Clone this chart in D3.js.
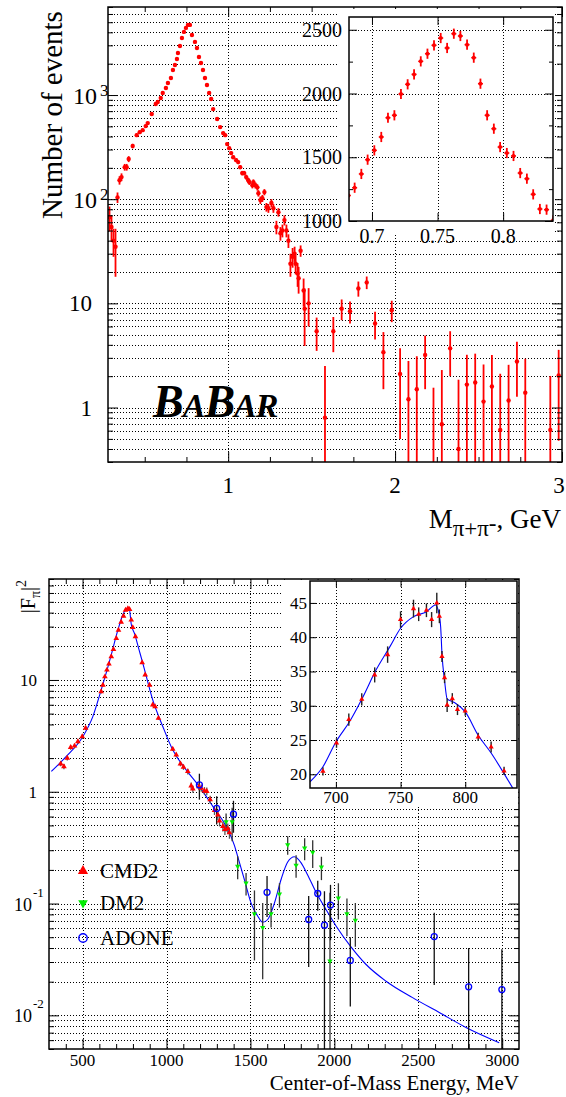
<!DOCTYPE html>
<html>
<head>
<meta charset="utf-8">
<script src="https://cdn.jsdelivr.net/npm/d3@7"></script>
<style>
    body { margin: 0; background: #fff; }
    text { font-family: "Liberation Serif", "Times New Roman", serif; fill: #000; }
</style>
</head>
<body>
<div id="chart"></div>
<script>
/* * * * * * * * * * * * * *
*   data  *
* * * * * * * * * * * * * */

// top panel: BaBar pi+pi- mass spectrum (GeV, events, error)
const topMass = [0.289,0.301,0.313,0.325,0.337,0.349,0.361,0.380,0.392,0.404,0.428,0.452,0.470,0.488,0.506,0.518,0.542,0.566,0.578,0.596,0.608,0.627,0.639,0.657,0.669,0.681,0.693,0.699,0.711,0.723,0.735,0.747,0.759,0.771,
    0.783,0.801,0.813,0.825,0.837,0.849,0.861,0.873,0.886,0.898,0.910,0.934,0.952,0.970,0.982,0.994,1.006,1.018,1.030,1.048,1.060,1.072,1.084,1.096,1.108,1.120,1.127,1.145,1.151,1.163,1.175,1.181,1.193,1.205,1.217,1.229,1.241,1.259,1.271,1.289,1.301,1.313,1.325,1.337,1.349,1.361,1.373,1.386,1.398,1.404,1.416,1.422,1.434,1.452,1.458,1.482,
    1.53,1.58,1.63,1.68,1.73,1.78,1.83,1.88,1.93,1.98,2.03,2.08,2.13,2.18,2.23,2.28,2.33,2.38,2.43,2.48,2.53,2.58,2.63,2.68,2.73,2.78,2.93,2.98];
const topCounts = [67,54,40,35,104,152,163,203,203,243,324,412,440,460,503,538,657,819,857,935,1045,1167,1304,1457,1738,1943,2218,2535,2958,3532,4036,4408,4712,4712,
    3775,3236,2832,2319,2031,1738,1457,1248,1045,915,733,588,492,431,412,338,309,277,253,237,227,203,178,178,163,152,146,136,146,136,130,114,98,102,117,84,82,92,82,54,75,47,50,63,50,40,24,28,30,24,19.4,17.4,32,13.3,8.9,10,
    5.4,0.8,5.4,8.9,8.4,13.9,15.9,6.4,3.4,8.6,2.1,1.2,1.5,3.2,0.15,0.69,3.7,0.4,1.66,1.74,1.14,1.59,0.61,1.17,2.77,1.39,0.61,2.03];
const topErr = [18,15,12,17,12,14,14,15,15,16,16,16,16,16,17,17,18,19,19,20,21,22,23,24,26,27,29,31,33,36,38,40,42,42,
    38,36,33,30,28,26,24,22,21,19,17,16,14,13,13,12,11,11,10,10,10,9,9,9,9,9,9,9,9,9,9,8,8,8,8,8,8,8,8,8,7,7,7,7,7,6,6,6,5,5,5,5,4,4,5,4,
    1.9,1.7,2.0,2.0,2.0,2.3,2.2,1.9,1.9,2.0,1.6,1.6,1.6,1.7,1.4,1.6,1.7,1.45,1.55,1.55,1.45,1.6,1.5,1.4,1.5,1.55,1.4,1.55];

// top inset: peak region, finer bins
const insetMass = [0.682,0.6868,0.6919,0.6967,0.7018,0.7071,0.7122,0.7171,0.7221,0.7272,0.7321,0.7372,0.7423,0.7473,0.7524,0.7573,0.7624,0.7674,0.7725,0.7776,0.7827,0.7878,0.7929,0.7977,0.8028,0.8079,0.8130,0.8181,0.8229,0.8280,0.8331,0.8382];
const insetCounts = [1200,1261,1369,1481,1554,1659,1810,1829,1996,2072,2150,2252,2312,2378,2435,2357,2469,2451,2383,2281,2077,1829,1724,1580,1533,1510,1376,1332,1209,1094,1089,1005];
const insetErr = [40,40,40,40,40,40,40,40,40,40,40,40,40,40,40,40,40,40,40,40,40,40,40,40,40,40,40,40,40,40,40,40];

// bottom panel: |F_pi|^2 vs energy (MeV)
const cmd2E = [370,389,409,429,452,472,498,518,611,621,633,645,657,671,684,701,714,730,744,756,770,780,790,799,815,855,873,899,918,932,952,1037,1058,1083,1101,1127,1147,1157,1193,1207,1226,1240,1260,1286,1306,1316,1336,1348,1365,1375];
const cmd2F = [1.78,1.68,2.0,2.5,2.57,2.81,3.12,3.71,7.87,9.0,10.7,12.3,13.9,16.2,18.8,23.6,27.9,33,37.3,42.2,43.6,42.8,34.4,29.5,24.4,14.3,11.1,9.0,6.0,5.78,4.55,2.41,2.14,1.78,1.66,1.52,1.13,1.06,1.11,1.08,1.02,1.01,0.85,0.68,0.62,0.55,0.49,0.46,0.47,0.43];
const cmd2Err = [0.09,0.09,0.1,0.12,0.12,0.13,0.14,0.15,0.3,0.3,0.35,0.4,0.4,0.5,0.5,0.6,0.7,0.8,0.9,1.0,1.0,1.0,0.8,0.7,0.6,0.4,0.3,0.25,0.2,0.2,0.15,0.1,0.1,0.09,0.09,0.09,0.08,0.08,0.08,0.08,0.08,0.08,0.07,0.06,0.06,0.06,0.05,0.05,0.05,0.05];

const dm2E = [1355,1391,1424,1474,1524,1573,1623,1673,1722,1772,1823,1871,1923,1974,2024,2075,2125];
const dm2F = [0.54,0.54,0.215,0.153,0.081,0.061,0.081,0.122,0.336,0.22,0.314,0.288,0.212,0.0306,0.112,0.081,0.071];
const dm2Err = [0.1,0.18,0.05,0.035,0.05,0.04,0.02,0.03,0.063,0.05,0.07,0.08,0.05,0.094,0.04,0.03,0.03];

const adoneE = [1196,1299,1399,1599,1847,1901,1941,1977,2095,2595,2800,2998];
const adoneF = [1.15,0.71,0.63,0.126,0.072,0.123,0.064,0.097,0.031,0.0507,0.018,0.017];
const adoneErr = [0.3,0.2,0.2,0.05,0.045,0.037,0.065,0.05,0.019,0.032,0.022,0.022];

// fit curve
const fitE = [314,403,502,561,611,661,680,700,720,741,760,777,790,810,837,859,918,978,1037,1117,1196,1276,1355,1405,1424,1464,1504,1544,1573,1603,1643,1683,1722,1762,1802,1841,1891,1951,2010,2099,2189,2308,2466,2625,2784,2982];
const fitF = [1.52,2.07,3.12,4.70,8.15,14.8,18.9,24.7,31.3,38.7,43.0,44.6,31.5,25.8,18.5,14.1,6.63,3.83,2.37,1.57,1.11,0.74,0.49,0.33,0.264,0.164,0.101,0.077,0.068,0.072,0.101,0.165,0.235,0.262,0.231,0.18,0.126,0.088,0.063,0.041,0.0285,0.0202,0.0144,0.0106,0.0078,0.0057];

// bottom inset (linear scale, rho-omega region)
const cmdInE = [690,700.5,710,720,730,740,750,760,764,770,774,778,780,782,784,786,790,794,800,810,820,830];
const cmdInF = [20.44,24.57,27.98,30.94,34.5,37.46,42.57,44.17,43.35,43.93,42.57,45.0,43.05,37.2,34.1,30.1,31.04,29.44,29.24,25.45,23.99,20.49];
const cmdInErr = [0.6,0.7,0.9,0.9,1.1,1.2,1.2,1.3,1.0,1.0,1.1,1.5,1.0,0.8,0.8,1.0,0.8,0.8,0.7,0.6,0.8,0.6];
const fitInE = [680,690,700,711,721,731,742,750,760,770,777,779,781,782,784,786,789,793,800,810,820,830,837];
const fitInF = [18.9,21.1,24.7,27.8,31.3,35.2,38.7,41.3,43.0,43.7,44.7,44.0,41.5,37.6,33.7,31.0,30.7,30.3,29.1,25.7,23.1,20.1,17.9];

// tick labels
const topXLabels = [1, 2, 3];
const topYLabels = [[1, "1", null], [10, "10", null], [100, "10", "2"], [1000, "10", "3"]];
const topInXLabels = [0.7, 0.75, 0.8];
const topInYLabels = [1000, 1500, 2000, 2500];
const botXLabels = [500, 1000, 1500, 2000, 2500, 3000];
const botYLabels = [[0.01, "10", "-2"], [0.1, "10", "-1"], [1, "1", null], [10, "10", null]];
const botInXLabels = [700, 750, 800];
const botInYLabels = [20, 25, 30, 35, 40, 45];

/* * * * * * * * * * * * * *
*        helpers            *
* * * * * * * * * * * * * */

const svg = d3.select("#chart").append("svg")
    .attr("width", 566)
    .attr("height", 1097);

const defs = svg.append("defs");

// all 1..9 x 10^n values inside a log domain
function logValues(lo, hi) {
    let out = [];
    for (let e = Math.floor(Math.log10(lo)); e <= Math.ceil(Math.log10(hi)); e++) {
        for (let k = 1; k < 10; k++) {
            const v = k * Math.pow(10, e);
            if (v >= lo * 0.999 && v <= hi * 1.001) out.push(+v.toPrecision(3));
        }
    }
    return out;
}
function isDecade(v) {
    return Math.abs(Math.log10(v) - Math.round(Math.log10(v))) < 1e-6;
}

function clip(id, box) {
    defs.append("clipPath").attr("id", id).append("rect")
        .attr("x", box.l).attr("y", box.t)
        .attr("width", box.r - box.l).attr("height", box.b - box.t);
}

function dottedGrid(g, x, y, box, xs, ys) {
    g.append("g").selectAll("line").data(ys).enter().append("line")
        .attr("x1", box.l).attr("x2", box.r)
        .attr("y1", d => Math.round(y(d)) + 0.5).attr("y2", d => Math.round(y(d)) + 0.5)
        .attr("stroke", "#000").attr("stroke-width", 1).attr("stroke-dasharray", "1,2");
    g.append("g").selectAll("line").data(xs).enter().append("line")
        .attr("y1", box.t).attr("y2", box.b)
        .attr("x1", d => Math.round(x(d)) + 0.5).attr("x2", d => Math.round(x(d)) + 0.5)
        .attr("stroke", "#000").attr("stroke-width", 1).attr("stroke-dasharray", "1,2");
}

// inward ticks on all four sides using d3 axes
function frameTicks(g, x, y, box, t) {
    const ax = (gen, tr, vals, len) => {
        if (!vals.length) return;
        const a = g.append("g").attr("transform", tr)
            .call(gen.tickValues(vals).tickSize(-len).tickFormat(""));
        a.select(".domain").remove();
        a.selectAll("line").attr("stroke", "#000");
    };
    ax(d3.axisBottom(x), `translate(0,${box.b})`, t.xMaj, t.maj);
    ax(d3.axisBottom(x), `translate(0,${box.b})`, t.xMin, t.min);
    ax(d3.axisTop(x), `translate(0,${box.t})`, t.xMaj, t.maj);
    ax(d3.axisTop(x), `translate(0,${box.t})`, t.xMin, t.min);
    ax(d3.axisLeft(y), `translate(${box.l},0)`, t.yMaj, t.maj);
    ax(d3.axisLeft(y), `translate(${box.l},0)`, t.yMin, t.min);
    ax(d3.axisRight(y), `translate(${box.r},0)`, t.yMaj, t.maj);
    ax(d3.axisRight(y), `translate(${box.r},0)`, t.yMin, t.min);
    g.append("rect")
        .attr("x", box.l).attr("y", box.t)
        .attr("width", box.r - box.l).attr("height", box.b - box.t)
        .attr("fill", "none").attr("stroke", "#000").attr("stroke-width", 1.5);
}

function errorBars(g, data, x, y, color, width, floor) {
    g.selectAll(null).data(data).enter().append("line")
        .attr("x1", d => x(d.x)).attr("x2", d => x(d.x))
        .attr("y1", d => y(Math.max(d.y - d.e, floor)))
        .attr("y2", d => y(d.y + d.e))
        .attr("stroke", color).attr("stroke-width", width);
}

/* * * * * * * * * * * * * *
*        top panel          *
* * * * * * * * * * * * * */

const boxT = { l: 108, r: 562, t: 7, b: 462 };
const xT = d3.scaleLinear().domain([0.28, 3.0]).range([boxT.l, boxT.r]);
const yT = d3.scaleLog().domain([0.3, 7000]).range([boxT.b, boxT.t]);
clip("clipTop", boxT);

const gTop = svg.append("g");
dottedGrid(gTop, xT, yT, boxT, [1, 2], logValues(0.3, 7000).filter(v => v > 0.3 && v < 7000));

const topData = topMass.map((m, i) => ({ x: m, y: topCounts[i], e: topErr[i] }));
const gTopData = gTop.append("g").attr("clip-path", "url(#clipTop)");
errorBars(gTopData, topData, xT, yT, "#ff0000", 1.8, 0.01);
gTopData.selectAll("circle").data(topData).enter().append("circle")
    .attr("cx", d => xT(d.x)).attr("cy", d => yT(d.y))
    .attr("r", 2.2).attr("fill", "#ff0000");

const topMinor = logValues(0.3, 7000);
frameTicks(gTop, xT, yT, boxT, {
    xMaj: [1, 2, 3],
    xMin: [0.5, 0.75, 1.25, 1.5, 1.75, 2.25, 2.5, 2.75],
    yMaj: topMinor.filter(isDecade),
    yMin: topMinor.filter(v => !isDecade(v)),
    maj: 10, min: 5
});

// tick labels (the last one sits at the page edge, as in the original)
gTop.selectAll(".xl").data(topXLabels).enter().append("text")
    .attr("x", d => Math.min(xT(d), 559)).attr("y", 493)
    .attr("text-anchor", "middle").style("font-size", "23px")
    .text(d => d);

topYLabels.forEach(([v, base, sup]) => {
    const yy = yT(v);
    if (sup) {
        gTop.append("text").attr("x", 97).attr("y", yy + 9)
            .attr("text-anchor", "end").style("font-size", "24px").text(base);
        gTop.append("text").attr("x", 100).attr("y", yy + 1)
            .style("font-size", "17px").text(sup);
    } else {
        gTop.append("text").attr("x", 92).attr("y", yy + 8)
            .attr("text-anchor", "end").style("font-size", "23px").text(base);
    }
});

// axis titles
gTop.append("text")
    .attr("transform", "translate(62,115) rotate(-90)")
    .attr("text-anchor", "middle")
    .style("font-size", "29px")
    .text("Number of events");

const xTitle = gTop.append("text")
    .attr("x", 561).attr("y", 528)
    .attr("text-anchor", "end")
    .style("font-size", "27px");
xTitle.append("tspan").text("M");
xTitle.append("tspan").attr("dy", 8).style("font-size", "23px").text("π+π");
xTitle.append("tspan").attr("dy", -5).style("font-size", "23px").text("-");
xTitle.append("tspan").attr("dy", -3).text(", GeV");

// BaBar logo
const logo = gTop.append("text")
    .attr("x", 153).attr("y", 417)
    .style("font-style", "italic").style("font-weight", "bold")
    .style("letter-spacing", "-1px");
logo.append("tspan").style("font-size", "46px").text("B");
logo.append("tspan").style("font-size", "34px").text("A");
logo.append("tspan").style("font-size", "46px").text("B");
logo.append("tspan").style("font-size", "34px").text("AR");

/* ---- top inset ---- */

const boxTI = { l: 349, r: 553, t: 17, b: 221 };
const xTI = d3.scaleLinear().domain([0.6825, 0.838]).range([boxTI.l, boxTI.r]);
const yTI = d3.scaleLinear().domain([1000, 2600]).range([boxTI.b, boxTI.t]);
clip("clipTopIn", boxTI);

const gTI = svg.append("g");
gTI.append("rect").attr("x", 337).attr("y", 9).attr("width", 218).attr("height", 226).attr("fill", "#fff");
dottedGrid(gTI, xTI, yTI, boxTI, [0.7, 0.75, 0.8], [1500, 2000, 2500]);

const insetData = insetMass.map((m, i) => ({ x: m, y: insetCounts[i], e: insetErr[i] }));
const gTIData = gTI.append("g").attr("clip-path", "url(#clipTopIn)");
errorBars(gTIData, insetData, xTI, yTI, "#ff0000", 1.8, 0);
gTIData.selectAll(".hb").data(insetData).enter().append("line")
    .attr("x1", d => xTI(d.x) - 2.5).attr("x2", d => xTI(d.x) + 2.5)
    .attr("y1", d => yTI(d.y)).attr("y2", d => yTI(d.y))
    .attr("stroke", "#ff0000").attr("stroke-width", 1.5);
gTIData.selectAll("circle").data(insetData).enter().append("circle")
    .attr("cx", d => xTI(d.x)).attr("cy", d => yTI(d.y))
    .attr("r", 2).attr("fill", "#ff0000");

frameTicks(gTI, xTI, yTI, boxTI, {
    xMaj: [0.7, 0.75, 0.8], xMin: [],
    yMaj: [1000, 1500, 2000, 2500], yMin: [1250, 1750, 2250],
    maj: 8, min: 4
});

gTI.selectAll(".xl").data(topInXLabels).enter().append("text")
    .attr("x", d => xTI(d)).attr("y", 243)
    .attr("text-anchor", "middle").style("font-size", "20px")
    .text(d => d);
gTI.selectAll(".yl").data(topInYLabels).enter().append("text")
    .attr("x", 342).attr("y", d => yTI(d) + 7)
    .attr("text-anchor", "end").style("font-size", "20px")
    .text(d => d);

/* * * * * * * * * * * * * *
*       bottom panel        *
* * * * * * * * * * * * * */

const boxB = { l: 49, r: 519, t: 579, b: 1049 };
const xB = d3.scaleLinear().domain([300, 3100]).range([boxB.l, boxB.r]);
const yB = d3.scaleLog().domain([0.005, 80]).range([boxB.b, boxB.t]);
clip("clipBot", boxB);

const gBot = svg.append("g");
const botMinor = logValues(0.005, 80);
dottedGrid(gBot, xB, yB, boxB, botXLabels, botMinor.filter(v => v > 0.005 && v < 80));

const gBData = gBot.append("g").attr("clip-path", "url(#clipBot)");

// fit line
gBData.append("path")
    .datum(fitE.map((e, i) => [e, fitF[i]]))
    .attr("d", d3.line().x(d => xB(d[0])).y(d => yB(d[1])).curve(d3.curveMonotoneX))
    .attr("fill", "none").attr("stroke", "#0000ff").attr("stroke-width", 1.1);

const cmd2Data = cmd2E.map((e, i) => ({ x: e, y: cmd2F[i], e: cmd2Err[i] }));
const dm2Data = dm2E.map((e, i) => ({ x: e, y: dm2F[i], e: dm2Err[i] }));
const adoneData = adoneE.map((e, i) => ({ x: e, y: adoneF[i], e: adoneErr[i] }));

errorBars(gBData, dm2Data, xB, yB, "#333", 1.3, 1e-4);
errorBars(gBData, adoneData, xB, yB, "#111", 1.3, 1e-4);
errorBars(gBData, cmd2Data, xB, yB, "#555", 1.3, 1e-4);

const triUp = d3.symbol().type(d3.symbolTriangle);
gBData.selectAll(".cmd").data(cmd2Data).enter().append("path")
    .attr("transform", d => `translate(${xB(d.x)},${yB(d.y)})`)
    .attr("d", triUp.size(14)()).attr("fill", "#ff0000");
gBData.selectAll(".dm").data(dm2Data).enter().append("path")
    .attr("transform", d => `translate(${xB(d.x)},${yB(d.y)}) rotate(180)`)
    .attr("d", triUp.size(12)()).attr("fill", "#00ee00");
gBData.selectAll(".ad").data(adoneData).enter().append("circle")
    .attr("cx", d => xB(d.x)).attr("cy", d => yB(d.y))
    .attr("r", 3).attr("fill", "none").attr("stroke", "#0000ff").attr("stroke-width", 1.3);

frameTicks(gBot, xB, yB, boxB, {
    xMaj: botXLabels,
    xMin: d3.range(400, 3100, 100).filter(v => v % 500 !== 0),
    yMaj: botMinor.filter(isDecade),
    yMin: botMinor.filter(v => !isDecade(v)),
    maj: 10, min: 5
});

gBot.selectAll(".xl").data(botXLabels).enter().append("text")
    .attr("x", d => xB(d)).attr("y", 1066)
    .attr("text-anchor", "middle").style("font-size", "17px")
    .text(d => d);

botYLabels.forEach(([v, base, sup]) => {
    const yy = yB(v);
    if (sup) {
        gBot.append("text").attr("x", 32).attr("y", yy + 7)
            .attr("text-anchor", "end").style("font-size", "18px").text(base);
        gBot.append("text").attr("x", 33).attr("y", yy - 7)
            .style("font-size", "13px").text(sup);
    } else {
        gBot.append("text").attr("x", 37).attr("y", yy + 6)
            .attr("text-anchor", "end").style("font-size", "17px").text(base);
    }
});

gBot.append("text")
    .attr("x", 519).attr("y", 1090)
    .attr("text-anchor", "end").style("font-size", "21px")
    .text("Center-of-Mass Energy, MeV");

const yTitle = gBot.append("text")
    .attr("transform", "translate(35,580) rotate(-90)")
    .attr("text-anchor", "end")
    .style("font-size", "20px");
yTitle.append("tspan").text("|F");
yTitle.append("tspan").attr("dy", 5).style("font-size", "14px").text("π");
yTitle.append("tspan").attr("dy", -5).text("|");
yTitle.append("tspan").attr("dy", -9).style("font-size", "14px").text("2");

// legend
const legend = [
    { name: "CMD2", y: 871 },
    { name: "DM2", y: 903 },
    { name: "ADONE", y: 938 }
];
legend.forEach((d, i) => {
    if (i === 0) {
        gBot.append("path").attr("transform", `translate(83,${d.y})`)
            .attr("d", triUp.size(45)()).attr("fill", "#ff0000");
    } else if (i === 1) {
        gBot.append("path").attr("transform", `translate(83,${d.y}) rotate(180)`)
            .attr("d", triUp.size(40)()).attr("fill", "#00ee00");
    } else {
        gBot.append("circle").attr("cx", 83).attr("cy", d.y).attr("r", 4.2)
            .attr("fill", "none").attr("stroke", "#0000ff").attr("stroke-width", 1.4);
    }
    gBot.append("text").attr("x", 100).attr("y", d.y + 7)
        .style("font-size", "21px").text(d.name);
});

/* ---- bottom inset ---- */

const boxBI = { l: 310, r: 517, t: 581, b: 788 };
const xBI = d3.scaleLinear().domain([680, 840]).range([boxBI.l, boxBI.r]);
const yBI = d3.scaleLinear().domain([18, 48.2]).range([boxBI.b, boxBI.t]);
clip("clipBotIn", boxBI);

const gBI = svg.append("g");
gBI.append("rect").attr("x", 283).attr("y", 580).attr("width", 235).attr("height", 226).attr("fill", "#fff");
dottedGrid(gBI, xBI, yBI, boxBI, botInXLabels, botInYLabels);

const gBIData = gBI.append("g").attr("clip-path", "url(#clipBotIn)");
gBIData.append("path")
    .datum(fitInE.map((e, i) => [e, fitInF[i]]))
    .attr("d", d3.line().x(d => xBI(d[0])).y(d => yBI(d[1])).curve(d3.curveMonotoneX))
    .attr("fill", "none").attr("stroke", "#0000ff").attr("stroke-width", 1.1);

const cmdInData = cmdInE.map((e, i) => ({ x: e, y: cmdInF[i], e: cmdInErr[i] }));
errorBars(gBIData, cmdInData, xBI, yBI, "#222", 1.4, 0);
gBIData.selectAll(".cmd").data(cmdInData).enter().append("path")
    .attr("transform", d => `translate(${xBI(d.x)},${yBI(d.y)})`)
    .attr("d", triUp.size(12)()).attr("fill", "#ff0000");

frameTicks(gBI, xBI, yBI, boxBI, {
    xMaj: botInXLabels, xMin: [],
    yMaj: botInYLabels, yMin: [],
    maj: 6, min: 3
});

gBI.selectAll(".xl").data(botInXLabels).enter().append("text")
    .attr("x", d => xBI(d)).attr("y", 803)
    .attr("text-anchor", "middle").style("font-size", "17px")
    .text(d => d);
gBI.selectAll(".yl").data(botInYLabels).enter().append("text")
    .attr("x", 307).attr("y", d => yBI(d) + 6)
    .attr("text-anchor", "end").style("font-size", "17px")
    .text(d => d);
</script>
</body>
</html>
